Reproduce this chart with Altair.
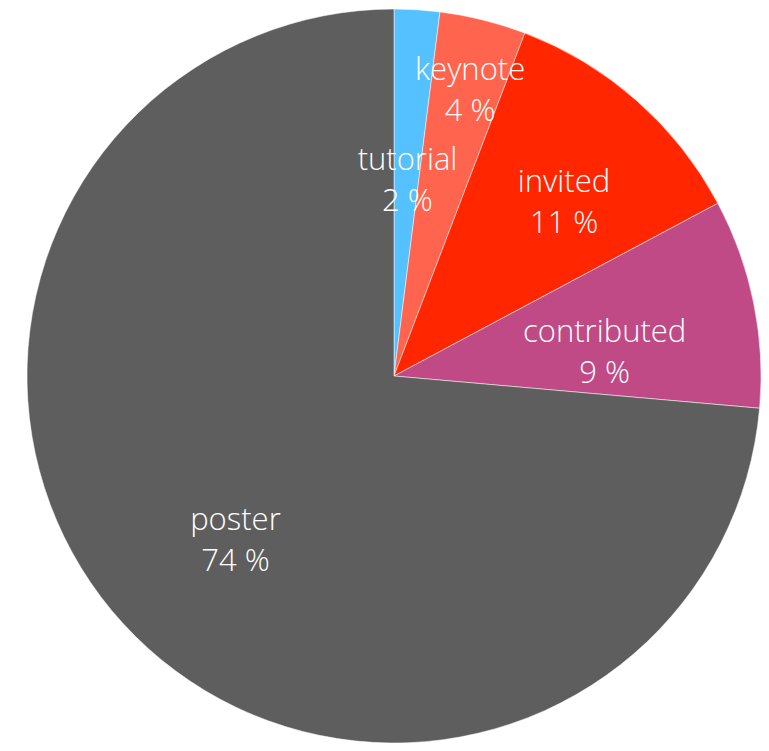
import altair as alt
import pandas as pd

categories = ["tutorial", "keynote", "invited", "contributed", "poster"]
shares = [2.0, 3.8, 11.4, 9.2, 73.6]
pct_labels = ["2 %", "4 %", "11 %", "9 %", "74 %"]
colors = ["#56C1FF", "#FF644E", "#FF2600", "#C04A86", "#5E5E5E"]

df = pd.DataFrame({
    "cat": categories,
    "share": shares,
    "pct": pct_labels,
    "idx": list(range(len(categories))),
})

theta_scale = alt.Scale(domain=[0, 100], range=[0, 6.283185307179586])

base = alt.Chart(df).transform_window(
    end="sum(share)", sort=[alt.SortField("idx")],
    frame=[None, 0],
).transform_calculate(
    start="datum.end - datum.share",
    mid="datum.end - datum.share / 2",
    label="datum.cat + '\\n' + datum.pct",
    r="datum.cat == 'keynote' ? 314 : (datum.cat == 'invited' ? 257 : 215)",
).encode(
    x=alt.value(386),
    y=alt.value(368),
)

arcs = base.mark_arc(outerRadius=367, stroke="white", strokeWidth=0.5, clip=True).encode(
    theta=alt.Theta("start:Q", scale=theta_scale),
    theta2="end:Q",
    color=alt.Color("cat:N", scale=alt.Scale(domain=categories, range=colors), legend=None),
)

texts = base.mark_text(
    font="Open Sans", fontWeight=300, fontSize=31, color="white",
    lineBreak="\n", lineHeight=41, align="center", baseline="middle",
).encode(
    theta=alt.Theta("mid:Q", scale=theta_scale),
    radius=alt.Radius("r:Q", scale=None),
    text="label:N",
)

chart = (arcs + texts).properties(
    width=753, height=735, padding=0
).configure_view(stroke=None)

chart.save("out.html", embed_options={"renderer": "svg", "actions": False})
